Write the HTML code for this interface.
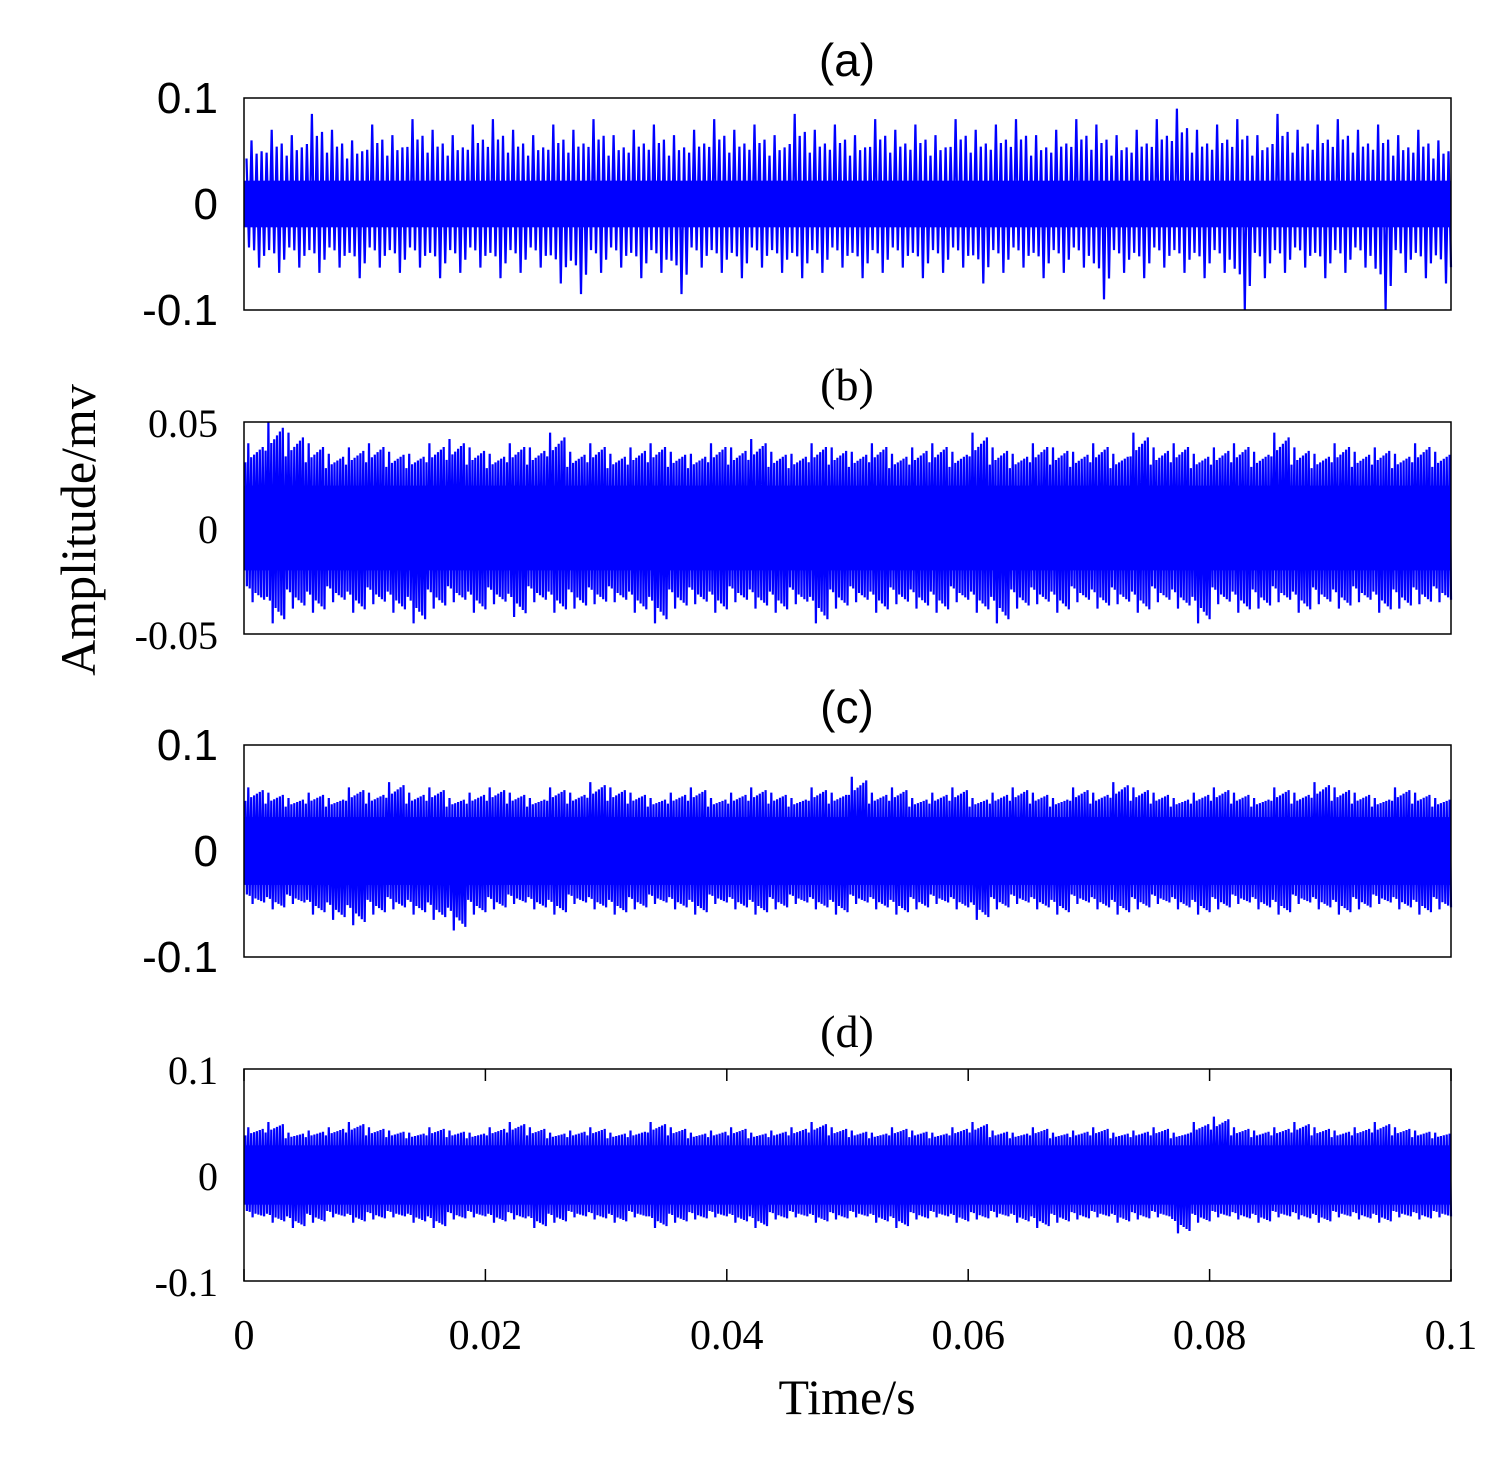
<!DOCTYPE html>
<html><head><meta charset="utf-8">
<style>
body{margin:0;background:#fff;}
svg{display:block;}
.serif{font-family:"Liberation Serif",serif;}
.sans{font-family:"Liberation Sans",sans-serif;}
</style></head>
<body>
<svg id="chart" width="1512" height="1468" viewBox="0 0 1512 1468" xmlns="http://www.w3.org/2000/svg">
<text class="serif" x="95" y="530" font-size="50" text-anchor="middle" transform="rotate(-90 95 530)">Amplitude/mv</text>
<text class="serif" x="847" y="1414" font-size="50" text-anchor="middle">Time/s</text>
</svg>
<script>
const panelTitles = ["(a)","(b)","(c)","(d)"];
const yMaxVals = [0.1,0.05,0.1,0.1];
const yTickLabels = [["0.1","0","-0.1"],["0.05","0","-0.05"],["0.1","0","-0.1"],["0.1","0","-0.1"]];
const xTickValues = [0,0.02,0.04,0.06,0.08,0.1];
const xTickLabels = ["0","0.02","0.04","0.06","0.08","0.1"];
const coreLevel = [0.022,0.02,0.032,0.028];
const maxA = [0.06,0.07,0.065,0.085,0.07,0.06,0.075,0.065,0.08,0.07,0.065,0.075,0.08,0.07,0.065,0.075,0.07,0.08,0.065,0.07,0.075,0.065,0.07,0.08,0.07,0.075,0.065,0.085,0.07,0.075,0.065,0.08,0.07,0.075,0.065,0.08,0.07,0.075,0.08,0.065,0.07,0.08,0.075,0.065,0.07,0.08,0.09,0.07,0.075,0.08,0.065,0.085,0.07,0.075,0.08,0.07,0.075,0.065,0.07,0.06];
const minA = [-0.06,-0.065,-0.06,-0.065,-0.06,-0.07,-0.06,-0.065,-0.06,-0.07,-0.065,-0.06,-0.07,-0.065,-0.06,-0.075,-0.085,-0.065,-0.06,-0.07,-0.065,-0.085,-0.06,-0.065,-0.07,-0.06,-0.065,-0.07,-0.065,-0.06,-0.07,-0.065,-0.06,-0.07,-0.065,-0.06,-0.075,-0.065,-0.06,-0.07,-0.065,-0.06,-0.09,-0.065,-0.07,-0.06,-0.065,-0.07,-0.065,-0.1,-0.07,-0.065,-0.06,-0.07,-0.065,-0.06,-0.1,-0.065,-0.07,-0.075];
const maxB = [0.04,0.05,0.045,0.04,0.035,0.038,0.04,0.036,0.035,0.04,0.042,0.038,0.035,0.04,0.038,0.045,0.036,0.04,0.035,0.038,0.04,0.036,0.035,0.04,0.038,0.042,0.036,0.035,0.04,0.038,0.036,0.04,0.035,0.038,0.04,0.036,0.045,0.038,0.035,0.04,0.038,0.036,0.04,0.035,0.045,0.038,0.04,0.035,0.038,0.04,0.036,0.045,0.038,0.035,0.04,0.036,0.038,0.035,0.04,0.036];
const minB = [-0.035,-0.045,-0.038,-0.04,-0.035,-0.04,-0.036,-0.04,-0.045,-0.038,-0.035,-0.04,-0.036,-0.042,-0.035,-0.04,-0.038,-0.036,-0.035,-0.04,-0.045,-0.038,-0.036,-0.04,-0.035,-0.038,-0.04,-0.036,-0.045,-0.038,-0.035,-0.04,-0.036,-0.038,-0.04,-0.035,-0.04,-0.045,-0.038,-0.036,-0.04,-0.035,-0.038,-0.036,-0.04,-0.035,-0.038,-0.045,-0.036,-0.04,-0.038,-0.035,-0.04,-0.036,-0.038,-0.035,-0.04,-0.038,-0.036,-0.035];
const maxC = [0.06,0.055,0.05,0.055,0.05,0.06,0.055,0.065,0.055,0.06,0.05,0.055,0.06,0.055,0.05,0.06,0.055,0.065,0.06,0.055,0.05,0.055,0.06,0.05,0.055,0.06,0.055,0.05,0.06,0.055,0.07,0.055,0.06,0.05,0.055,0.06,0.05,0.055,0.06,0.055,0.05,0.06,0.055,0.065,0.06,0.055,0.05,0.055,0.06,0.055,0.05,0.06,0.055,0.065,0.06,0.055,0.05,0.06,0.055,0.05];
const minC = [-0.05,-0.055,-0.05,-0.06,-0.065,-0.07,-0.06,-0.055,-0.06,-0.065,-0.075,-0.06,-0.055,-0.05,-0.055,-0.06,-0.05,-0.055,-0.06,-0.055,-0.05,-0.055,-0.06,-0.05,-0.055,-0.06,-0.055,-0.05,-0.055,-0.06,-0.05,-0.055,-0.06,-0.055,-0.05,-0.055,-0.065,-0.055,-0.05,-0.055,-0.06,-0.05,-0.055,-0.06,-0.055,-0.05,-0.055,-0.06,-0.055,-0.05,-0.055,-0.06,-0.05,-0.055,-0.06,-0.055,-0.05,-0.055,-0.06,-0.055];
const maxD = [0.045,0.05,0.04,0.042,0.045,0.05,0.045,0.042,0.04,0.045,0.042,0.04,0.045,0.05,0.045,0.04,0.042,0.045,0.04,0.042,0.05,0.045,0.04,0.042,0.045,0.04,0.042,0.045,0.05,0.045,0.042,0.04,0.045,0.042,0.04,0.045,0.05,0.042,0.04,0.045,0.04,0.042,0.045,0.04,0.042,0.045,0.04,0.05,0.055,0.045,0.042,0.045,0.05,0.045,0.042,0.045,0.05,0.045,0.042,0.04];
const minD = [-0.04,-0.045,-0.05,-0.045,-0.04,-0.045,-0.042,-0.04,-0.045,-0.05,-0.042,-0.04,-0.045,-0.042,-0.05,-0.045,-0.04,-0.042,-0.045,-0.04,-0.05,-0.045,-0.042,-0.04,-0.045,-0.05,-0.042,-0.04,-0.045,-0.042,-0.04,-0.045,-0.05,-0.042,-0.04,-0.045,-0.042,-0.04,-0.045,-0.05,-0.045,-0.042,-0.04,-0.045,-0.042,-0.04,-0.055,-0.045,-0.04,-0.042,-0.045,-0.04,-0.042,-0.045,-0.04,-0.042,-0.045,-0.04,-0.042,-0.04];
const maxSeries = [maxA,maxB,maxC,maxD];
const minSeries = [minA,minB,minC,minD];

const NS = "http://www.w3.org/2000/svg";
const svg = document.getElementById('chart');
const X0 = 244, X1 = 1451;
const panelTop = [98,422,745,1069], panelH = 212;
const labelFonts = ["sans","serif","sans","serif"];
const labelSizes = [44,40,44,40];
const xScale = v => X0 + (v/0.1)*(X1-X0);
function mk(tag, attrs){ const e=document.createElementNS(NS,tag); for(const k in attrs) e.setAttribute(k,attrs[k]); return e; }

for(let p=0;p<4;p++){
  const top = panelTop[p], ym = yMaxVals[p];
  const yScale = v => top + panelH/2 - (v/ym)*(panelH/2);
  const g = mk('g',{});
  
  
  svg.appendChild(g);
  const mx = maxSeries[p], mn = minSeries[p], n = mx.length;
  const bw = (X1-X0)/n;
  const core = mk('rect',{x:X0,y:yScale(coreLevel[p]),width:X1-X0,height:yScale(-coreLevel[p])-yScale(coreLevel[p]),fill:'#0000ff'});
  
  
  g.appendChild(core);
  let d = '';
  const sub = p===0 ? 4 : 7;
  for(let i=0;i<n;i++){
    const xa = X0 + i*bw;
    for(let s=0;s<sub;s++){
      const x = xa + (s+0.5)*bw/sub;
      const f = (s===1) ? 1 : 0.55 + 0.06*s;
      const hi = coreLevel[p] + (mx[i]-coreLevel[p])*f;
      const lo = -coreLevel[p] + (mn[i]+coreLevel[p])*((s===2)?1:(0.5+0.07*s));
      d += (d?'L':'M') + x.toFixed(1)+','+yScale(hi).toFixed(1)+'L'+(x+bw/sub/2).toFixed(1)+','+yScale(lo).toFixed(1);
    }
  }
  const line = mk('path',{d:d,fill:'none',stroke:'#0000ff','stroke-width':2.2});
  
  
  g.appendChild(line);
  const box = mk('rect',{x:X0,y:top,width:X1-X0,height:panelH,fill:'none',stroke:'#000','stroke-width':1.5});
  
  
  g.appendChild(box);
  const t = mk('text',{x:847,y:top-22,'font-size':46,'text-anchor':'middle',class:labelFonts[p]==='sans'?'sans':'serif'});
  t.textContent = panelTitles[p];
  
  
  g.appendChild(t);
  const yv=[ym,0,-ym];
  for(let k=0;k<3;k++){
    const l = mk('text',{x:218,y:yScale(yv[k])+15,'font-size':labelSizes[p],'text-anchor':'end',class:labelFonts[p]});
    l.textContent = yTickLabels[p][k];
    
    
    g.appendChild(l);
  }
  if(p===3){
    for(let k=0;k<xTickValues.length;k++){
      const x = xScale(xTickValues[k]);
      const tk = mk('path',{d:`M${x},${top}v12M${x},${top+panelH}v-12`,stroke:'#000','stroke-width':1.5});
      
      
      g.appendChild(tk);
      const l = mk('text',{x:x,y:1349,'font-size':42,'text-anchor':'middle',class:'serif'});
      l.textContent = xTickLabels[k];
      
      
      g.appendChild(l);
    }
  }
}
</script>
</body></html>
